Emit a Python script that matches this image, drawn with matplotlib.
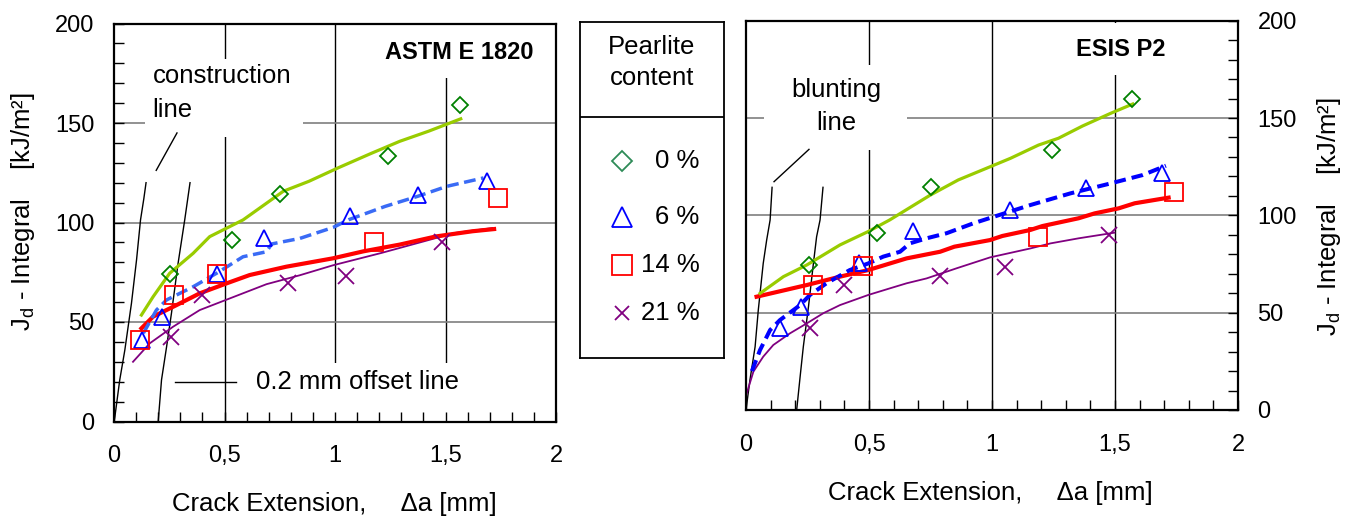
import matplotlib
matplotlib.use("Agg")
import matplotlib.pyplot as plt
from matplotlib.patches import Rectangle
from matplotlib.ticker import MultipleLocator

plt.rcParams['font.family'] = ['Liberation Sans', 'DejaVu Sans']

W, H = 1356, 521

# ---------------- data: ASTM E 1820 (left panel) ----------------
astm_0_pts_x = [0.252, 0.533, 0.750, 1.240, 1.564]
astm_0_pts_y = [74.3, 91.4, 114.5, 133.6, 158.8]
astm_0_fit_x = [0.124, 0.177, 0.252, 0.358, 0.433, 0.584, 0.766, 0.882, 1.013, 1.161, 1.293, 1.424, 1.569]
astm_0_fit_y = [53.5, 62.7, 74.5, 84.5, 92.9, 101.3, 115.7, 120.7, 127.4, 134.6, 140.8, 145.9, 152.1]

astm_6_pts_x = [0.128, 0.219, 0.464, 0.679, 1.067, 1.375, 1.690]
astm_6_pts_y = [41.1, 52.5, 74.3, 92.2, 103.1, 114.0, 120.7]
astm_6_fit_x = [0.133, 0.192, 0.238, 0.358, 0.464, 0.584, 0.690, 0.713, 0.841, 0.991, 1.062, 1.227, 1.375, 1.507, 1.672]
astm_6_fit_y = [44.4, 56.0, 61.1, 67.7, 74.5, 82.8, 85.3, 89.2, 92.0, 97.5, 101.4, 108.1, 113.2, 118.2, 122.4]

astm_14_pts_x = [0.117, 0.270, 0.467, 1.178, 1.737]
astm_14_pts_y = [41.1, 63.5, 74.3, 90.0, 112.5]
astm_14_fit_x = [0.124, 0.177, 0.283, 0.388, 0.509, 0.614, 0.780, 0.991, 1.128, 1.293, 1.457, 1.622, 1.720]
astm_14_fit_y = [46.8, 52.7, 58.5, 64.4, 69.4, 73.6, 77.8, 82.0, 85.5, 88.9, 93.0, 95.6, 96.7]

astm_21_pts_x = [0.260, 0.396, 0.786, 1.049, 1.482]
astm_21_pts_y = [42.7, 63.7, 69.6, 73.3, 90.0]
astm_21_fit_x = [0.086, 0.162, 0.267, 0.388, 0.539, 0.690, 0.841, 0.991, 1.210, 1.375, 1.539, 1.712]
astm_21_fit_y = [30.0, 39.3, 47.6, 56.0, 62.5, 69.0, 73.5, 78.5, 84.7, 89.7, 94.7, 97.2]

constr_x = [0.0, 0.004, 0.026, 0.049, 0.079, 0.102, 0.120, 0.135, 0.145]
constr_y = [0.0, 2.4, 20.9, 35.9, 59.4, 81.2, 101.3, 112.0, 120.0]
offset_x = [0.200, 0.215, 0.238, 0.260, 0.290, 0.320, 0.344]
offset_y = [0.0, 20.9, 37.6, 54.4, 79.5, 101.3, 120.0]

# ---------------- data: ESIS P2 (right panel) ----------------
esis_0_pts_x = [0.256, 0.534, 0.752, 1.243, 1.568]
esis_0_pts_y = [74.5, 90.8, 114.4, 133.6, 159.6]
esis_0_fit_x = [0.057, 0.152, 0.247, 0.382, 0.497, 0.585, 0.749, 0.863, 0.993, 1.075, 1.189, 1.270, 1.368, 1.482, 1.572]
esis_0_fit_y = [59.9, 68.5, 74.5, 84.8, 91.7, 97.7, 110.4, 118.2, 125.0, 129.3, 136.1, 139.6, 145.9, 152.4, 157.2]

esis_6_pts_x = [0.138, 0.223, 0.459, 0.679, 1.072, 1.384, 1.690]
esis_6_pts_y = [42.0, 52.7, 75.3, 92.1, 102.7, 113.9, 121.6]
esis_6_fit_x = [0.024, 0.057, 0.098, 0.138, 0.220, 0.260, 0.327, 0.422, 0.497, 0.558, 0.626, 0.666,
                0.734, 0.815, 0.924, 1.156, 1.319, 1.482, 1.612, 1.707]
esis_6_fit_y = [20.0, 30.8, 41.1, 46.2, 53.9, 59.1, 65.1, 71.9, 75.3, 78.8, 81.3, 85.6,
                88.2, 90.8, 95.9, 105.3, 111.3, 116.4, 120.7, 125.5]

esis_14_pts_x = [0.272, 0.476, 1.186, 1.739]
esis_14_pts_y = [64.2, 74.1, 88.7, 112.2]
esis_14_fit_x = [0.043, 0.247, 0.382, 0.497, 0.653, 0.789, 0.847, 0.992, 1.042, 1.156, 1.205, 1.352,
                 1.417, 1.515, 1.580, 1.718]
esis_14_fit_y = [58.2, 64.2, 68.5, 71.9, 77.9, 81.3, 83.9, 87.3, 89.4, 92.5, 94.5, 98.5,
                 101.0, 103.6, 106.2, 109.1]

esis_21_pts_x = [0.260, 0.399, 0.790, 1.054, 1.477]
esis_21_pts_y = [42.0, 64.2, 68.8, 73.6, 89.9]
esis_21_fit_x = [0.003, 0.030, 0.070, 0.111, 0.179, 0.247, 0.314, 0.382, 0.497, 0.585, 0.653, 0.734,
                 0.856, 0.992, 1.156, 1.238, 1.352, 1.498]
esis_21_fit_y = [8.6, 19.7, 27.4, 33.4, 39.4, 44.5, 49.7, 53.9, 59.1, 62.5, 65.1, 67.6,
                 72.8, 78.4, 83.0, 85.6, 88.2, 91.1]

blunt_x = [0.0, 0.016, 0.037, 0.050, 0.070, 0.084, 0.098, 0.106]
blunt_y = [0.0, 15.4, 32.5, 51.4, 75.3, 87.3, 97.6, 114.4]
blunt_off_x = [0.206, 0.220, 0.233, 0.254, 0.274, 0.287, 0.301, 0.313]
blunt_off_y = [0.0, 17.1, 32.5, 53.1, 75.3, 89.0, 97.6, 114.4]

# ticks / labels
x_major = [0, 0.5, 1, 1.5, 2]
x_ticklabels = ["0", "0,5", "1", "1,5", "2"]
y_major = [0, 50, 100, 150, 200]
legend_labels = ["0 %", "6 %", "14 %", "21 %"]

ylabel_txt = "J$_\\mathregular{d}$ - Integral    [kJ/m²]"
xlabel_txt = "Crack Extension,     Δa [mm]"

GREEN_PT = "#008000"
GREEN_LN = "#99CC00"
RED = "#FF0000"
PURPLE = "#800080"
BLUE = "#0000FF"


def fig_xy(px, py):
    return px / W, 1 - py / H


def setup_panel(ax, right=False):
    ax.set_xlim(0, 2)
    ax.set_ylim(0, 200)
    ax.set_xticks(x_major)
    ax.set_xticklabels(x_ticklabels)
    ax.set_yticks(y_major)
    ax.xaxis.set_minor_locator(MultipleLocator(0.1))
    ax.yaxis.set_minor_locator(MultipleLocator(10))
    if right:
        ax.yaxis.tick_right()
    ax.tick_params(which='both', direction='in', length=7, width=1, labelsize=17)
    ax.tick_params(axis='x', pad=17)
    ax.tick_params(axis='y', pad=14)
    for s in ax.spines.values():
        s.set_linewidth(1.6)
    ax.set_axisbelow(False)
    for xv in [0.5, 1, 1.5]:
        ax.axvline(xv, color='black', lw=1.0, zorder=0.8)
    for yv in [50, 100, 150]:
        ax.axhline(yv, color='#7f7f7f', lw=1.2, zorder=0.8)


def white_box(ax, x0, x1, y0, y1):
    ax.add_patch(Rectangle((x0, y0), x1 - x0, y1 - y0, facecolor='white',
                           edgecolor='none', zorder=1))


def markers(ax, x, y, m, ms, color):
    ax.plot(x, y, ls='none', marker=m, ms=ms, mfc='none', mec=color, mew=1.3, zorder=3)


fig = plt.figure(figsize=(W / 100, H / 100), dpi=100)

# ---------------- left panel ----------------
ax1 = fig.add_axes([114 / W, 1 - 421.5 / H, 442 / W, 398 / H])
setup_panel(ax1)
white_box(ax1, 0.14, 0.857, 143, 182)
white_box(ax1, 1.2, 1.97, 172.7, 199)
white_box(ax1, 0.635, 1.605, 0.5, 29.3)

ax1.plot(constr_x, constr_y, color='black', lw=1.0, zorder=2)
ax1.plot(offset_x, offset_y, color='black', lw=1.0, zorder=2)
ax1.plot([0.191, 0.285], [126.2, 145], color='black', lw=1.0, zorder=2)
ax1.plot([0.278, 0.553], [20.1, 20.1], color='black', lw=1.0, zorder=2)

ax1.plot(astm_21_fit_x, astm_21_fit_y, color=PURPLE, lw=1.3, zorder=2)
ax1.plot(astm_14_fit_x, astm_14_fit_y, color=RED, lw=3.0, zorder=2)
ax1.plot(astm_6_fit_x, astm_6_fit_y, color='#3A6BF5', lw=2.5, ls=(0, (3.4, 1.6)), zorder=2)
ax1.plot(astm_0_fit_x, astm_0_fit_y, color=GREEN_LN, lw=2.3, zorder=2)

markers(ax1, astm_0_pts_x, astm_0_pts_y, 'D', 7.8, GREEN_PT)
markers(ax1, astm_6_pts_x, astm_6_pts_y, '^', 11.5, BLUE)
markers(ax1, astm_14_pts_x, astm_14_pts_y, 's', 12.5, RED)
markers(ax1, astm_21_pts_x, astm_21_pts_y, 'x', 11, PURPLE)

ax1.text(0.174, 173.5, "construction", fontsize=18.5, ha='left', va='center', zorder=4)
ax1.text(0.174, 156.7, "line", fontsize=18.5, ha='left', va='center', zorder=4)
ax1.text(1.224, 185.2, "ASTM E 1820", fontsize=17, fontweight='bold', ha='left', va='center', zorder=4)
ax1.text(0.643, 20.1, "0.2 mm offset line", fontsize=18.5, ha='left', va='center', zorder=4)

# ---------------- right panel ----------------
ax2 = fig.add_axes([746 / W, 1 - 410 / H, 492 / W, 389.3 / H])
setup_panel(ax2, right=True)
white_box(ax2, 0.073, 0.656, 133.6, 177.2)
white_box(ax2, 1.30, 1.75, 172, 199)

ax2.plot(blunt_x, blunt_y, color='black', lw=1.0, zorder=2)
ax2.plot(blunt_off_x, blunt_off_y, color='black', lw=1.0, zorder=2)
ax2.plot([0.114, 0.256], [117.3, 133.9], color='black', lw=1.0, zorder=2)

ax2.plot(esis_21_fit_x, esis_21_fit_y, color=PURPLE, lw=1.3, zorder=2)
ax2.plot(esis_14_fit_x, esis_14_fit_y, color=RED, lw=3.0, zorder=2)
ax2.plot(esis_6_fit_x, esis_6_fit_y, color=BLUE, lw=2.9, ls=(0, (2.9, 1.5)), zorder=2)
ax2.plot(esis_0_fit_x, esis_0_fit_y, color=GREEN_LN, lw=2.3, zorder=2)

markers(ax2, esis_0_pts_x, esis_0_pts_y, 'D', 7.8, GREEN_PT)
markers(ax2, esis_6_pts_x, esis_6_pts_y, '^', 11.5, BLUE)
markers(ax2, esis_14_pts_x, esis_14_pts_y, 's', 12.5, RED)
markers(ax2, esis_21_pts_x, esis_21_pts_y, 'x', 11, PURPLE)

ax2.text(0.366, 164.4, "blunting", fontsize=18.5, ha='center', va='center', zorder=4)
ax2.text(0.366, 147.3, "line", fontsize=18.5, ha='center', va='center', zorder=4)
ax2.text(1.523, 185, "ESIS P2", fontsize=17, fontweight='bold', ha='center', va='center', zorder=4)

# ---------------- legend box ----------------
lg = fig.add_axes([580 / W, 1 - 358 / H, 144 / W, 336 / H])
lg.set_xlim(0, 1)
lg.set_ylim(0, 1)
lg.set_xticks([])
lg.set_yticks([])
for s in lg.spines.values():
    s.set_linewidth(1.3)
lg.axhline(0.717, color='black', lw=1.3)
lg.text(0.5, 0.926, "Pearlite", fontsize=18.5, ha='center', va='center')
lg.text(0.5, 0.833, "content", fontsize=18.5, ha='center', va='center')
leg_rows = [0.586, 0.420, 0.277, 0.134]
leg_styles = [('D', 10, '#2E8B57'), ('^', 14.4, BLUE), ('s', 15, RED), ('x', 9.5, PURPLE)]
for yy, (m, ms, c), lab in zip(leg_rows, leg_styles, legend_labels):
    lg.plot([0.29], [yy], ls='none', marker=m, ms=ms, mfc='none', mec=c, mew=1.3)
    lg.text(0.83, yy, lab, fontsize=18.5, ha='right', va='center')

# ---------------- axis titles ----------------
fig.text(*fig_xy(23, 212), ylabel_txt, rotation=90, ha='center', va='center', fontsize=18.5)
fig.text(*fig_xy(1329, 217), ylabel_txt, rotation=90, ha='center', va='center', fontsize=18.5)
fig.text(*fig_xy(334, 504), xlabel_txt, ha='center', va='center', fontsize=18.5)
fig.text(*fig_xy(990, 493), xlabel_txt, ha='center', va='center', fontsize=18.5)

fig.savefig("out.png", dpi=100)
